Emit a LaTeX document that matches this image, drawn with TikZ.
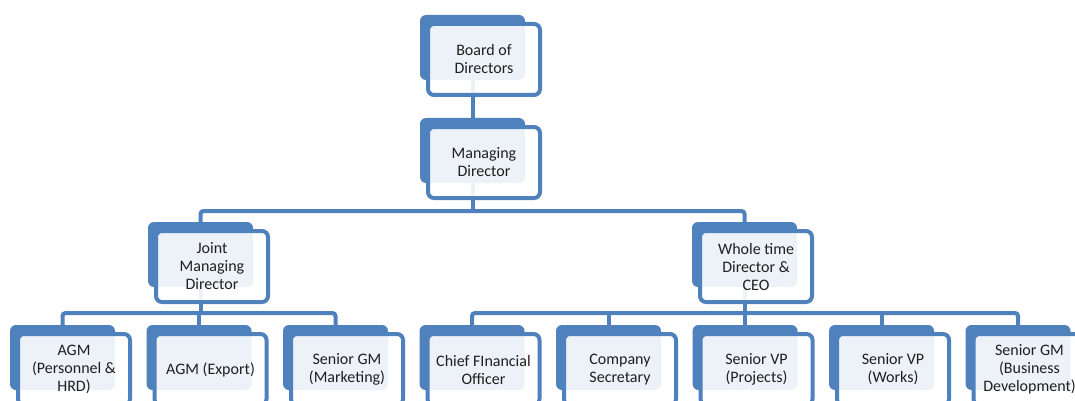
\documentclass[tikz,border=0pt]{standalone}
\usepackage{fontspec}
\setmainfont{Carlito}
\usetikzlibrary{backgrounds}
\definecolor{ob}{HTML}{4F81BD}
\tikzset{
  backbox/.style={rectangle, minimum width=105pt, minimum height=65pt, inner sep=0pt,
    fill=ob, draw=none, rounded corners=6pt},
  frontbox/.style={rectangle, minimum width=112pt, minimum height=71pt, inner sep=0pt,
    draw=ob, line width=4pt, fill=white, fill opacity=0.9, text opacity=1, draw opacity=1,
    rounded corners=6pt, align=center, font=\fontsize{16}{18}\selectfont, text=black!88},
  conn/.style={draw=ob, line width=4pt, rounded corners=3pt}
}
\newcommand\orgbox[4]{%
  \node[backbox] (#1B) at (#2+52.5, #3+32.5) {};
  \node[frontbox] (#1) at (#2+64, #3+44.5) {#4};
}
\begin{document}
\begin{tikzpicture}[x=1pt, y=-1pt]
\clip (0,0) rectangle (1075,401);
\orgbox{bd}{420}{15}{Board of\\Directors}
\orgbox{md}{420}{118}{Managing\\Director}
\orgbox{jmd}{148}{222}{Joint\\Managing\\Director}
\orgbox{wt}{692}{222}{Whole time\\Director \&\\CEO}
\orgbox{agma}{10}{325}{AGM\\(Personnel \&\\HRD)}
\orgbox{agmb}{146.5}{325}{AGM (Export)}
\orgbox{sgma}{283}{325}{Senior GM\\(Marketing)}
\orgbox{cfo}{419.5}{325}{Chief FInancial\\Officer}
\orgbox{cs}{556}{325}{Company\\Secretary}
\orgbox{svpa}{692.5}{325}{Senior VP\\(Projects)}
\orgbox{svpb}{829}{325}{Senior VP\\(Works)}
\orgbox{sgmb}{965.5}{325}{Senior GM\\(Business\\Development)}
\coordinate (t1) at (472.5,211);
\coordinate (t2) at (200.5,313);
\coordinate (t3) at (744.5,313);
\begin{pgfonlayer}{background}
  \fill[white] (0,0) rectangle (1075,401);
  \draw[conn] (bdB.center) -- (mdB.center);
  \draw[conn] (mdB.center) -- (t1);
  \draw[conn] (jmdB.center) |- (t1) -| (wtB.center);
  \draw[conn] (jmdB.center) -- (t2);
  \draw[conn] (agmaB.center) |- (t2) -| (sgmaB.center);
  \draw[conn] (agmbB.center) -- (agmbB.center |- t2);
  \draw[conn] (wtB.center) -- (t3);
  \draw[conn] (cfoB.center) |- (t3) -| (sgmbB.center);
  \draw[conn] (csB.center) -- (csB.center |- t3);
  \draw[conn] (svpaB.center) -- (svpaB.center |- t3);
  \draw[conn] (svpbB.center) -- (svpbB.center |- t3);
\end{pgfonlayer}
\end{tikzpicture}
\end{document}
